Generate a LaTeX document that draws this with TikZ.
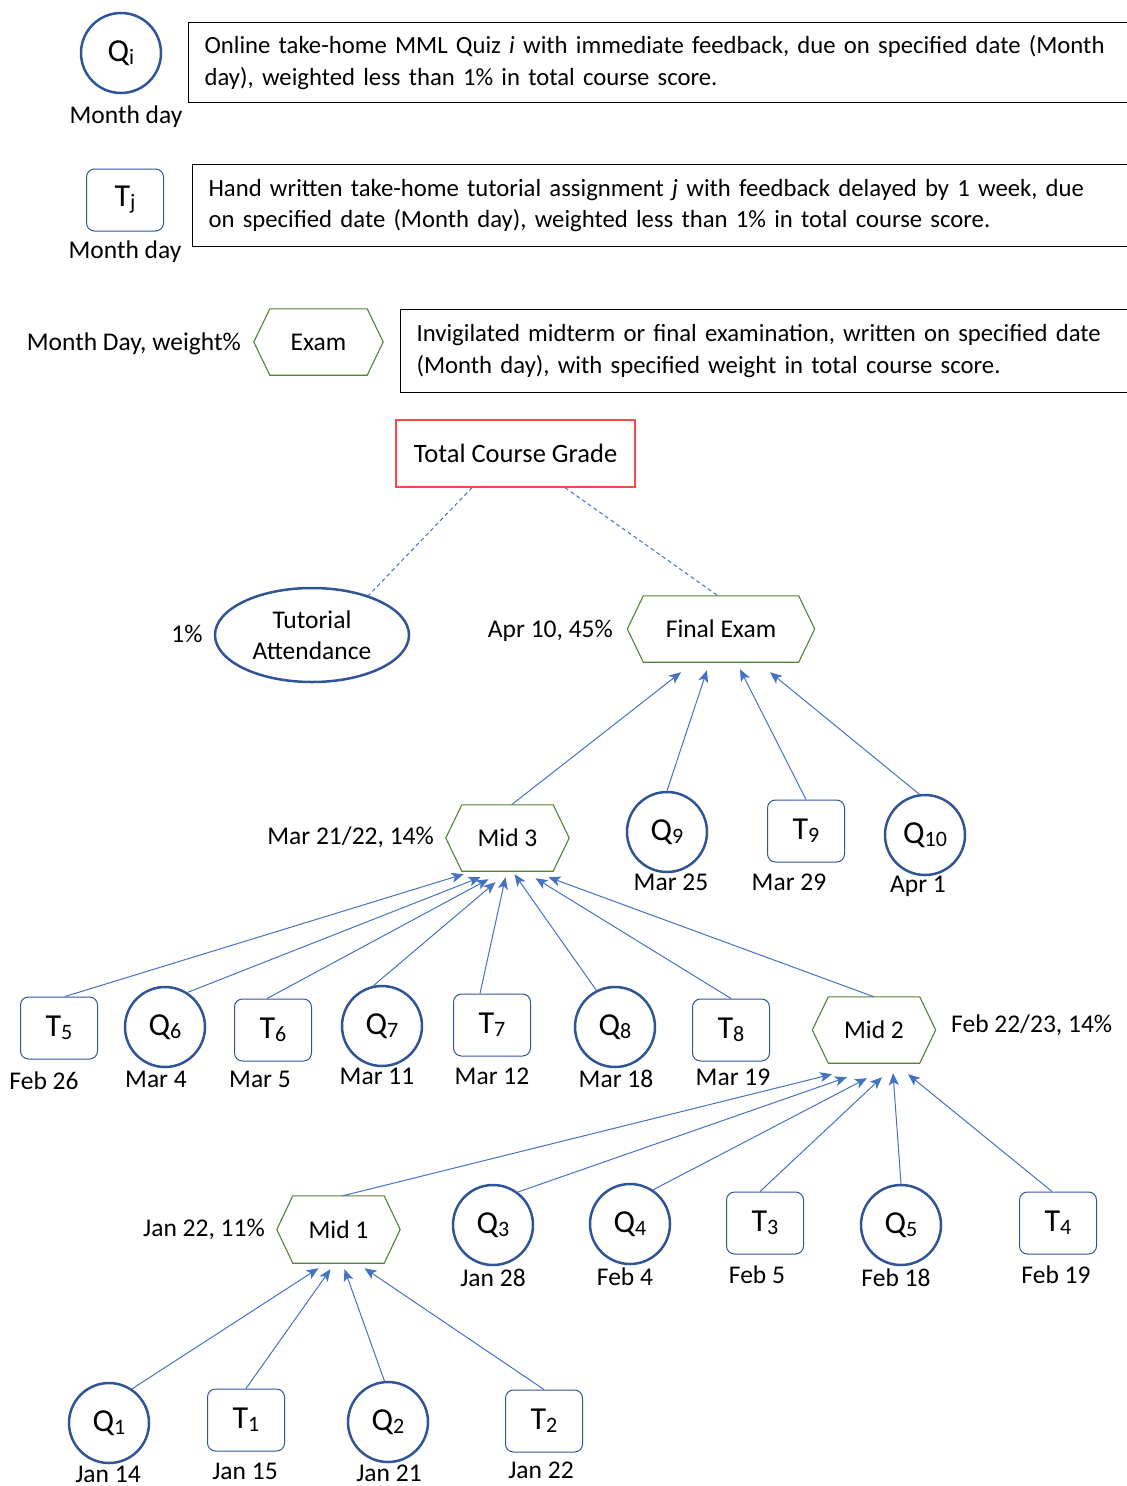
\documentclass[tikz,border=0pt]{standalone}
\usepackage{fontspec}
\setmainfont{Carlito}
\usetikzlibrary{arrows.meta,shapes.geometric}
\definecolor{qblue}{HTML}{2F5597}
\definecolor{ablue}{HTML}{4472C4}
\definecolor{hgreen}{HTML}{548235}
\definecolor{tred}{HTML}{FF4848}
\newcommand\subd[1]{\raisebox{-3pt}{\fontsize{22}{22}\selectfont #1}}
\begin{document}
\begin{tikzpicture}[x=1pt,y=-1pt,
  font=\fontsize{25.5}{31.5}\selectfont,
  quiz/.style={circle, draw=qblue, line width=2.5pt, minimum size=80pt, inner sep=0pt, font=\fontsize{32}{36}\selectfont},
  tut/.style={rectangle, rounded corners=8pt, draw=qblue, line width=1pt, minimum width=77pt, minimum height=62pt, inner sep=0pt, font=\fontsize{32}{36}\selectfont},
  hexbox/.style={rectangle, minimum height=66pt, inner sep=0pt},
  hexline/.style={draw=hgreen, line width=1.1pt},
  lbl/.style={inner sep=0pt},
  legbox/.style={rectangle, draw=black, line width=1.2pt, anchor=north west, inner xsep=16pt, inner ysep=0pt, align=left, text width=1000pt, font=\fontsize{24.7}{31.5}\selectfont},
  arr/.style={draw=ablue, line width=1pt, -{Stealth[length=12pt,width=10pt,inset=3pt]}},
  dashln/.style={draw=ablue, line width=1pt, dash pattern=on 4pt off 3pt}
]
\useasboundingbox (0,0) rectangle (1127,1486);

% ---------- legend ----------
\node[quiz] (qi) at (121,53) {Q\subd{i}};
\node[lbl] (qid) at (126,117) {Month day};
\node[legbox, minimum height=80pt] (lq) at (188,22)
  {Online take-home MML Quiz \textit{i} with immediate feedback, due on specified date (Month\\ day), weighted less than 1\% in total course score.};

\node[tut] (tj) at (125,200) {T\subd{j}};
\node[lbl] (tjd) at (125,252) {Month day};
\node[legbox, minimum height=82pt] (lt) at (192,164)
  {Hand written take-home tutorial assignment \textit{j} with feedback delayed by 1 week, due\\ on specified date (Month day), weighted less than 1\% in total course score.};

\node[hexbox, minimum width=129pt] (exam) at (318.5,342) {Exam};
\node[lbl, anchor=east] (examd) at (241,344) {Month Day, weight\%};
\node[legbox, minimum height=83pt] (le) at (400,309)
  {Invigilated midterm or final examination, written on specified date\\ (Month day), with specified weight in total course score.};

% ---------- top ----------
\node[draw=tred, line width=1.2pt, minimum width=239pt, minimum height=67pt, inner sep=0pt, font=\fontsize{26.5}{31.5}\selectfont] (tcg) at (515.5,453.5) {Total Course Grade};
\node[ellipse, draw=qblue, line width=2.5pt, minimum width=194pt, minimum height=94pt, inner sep=0pt, align=center] (att) at (312,635) {Tutorial\\Attendance};
\node[lbl] (attw) at (187,634) {1\%};
\node[hexbox, minimum width=187pt] (final) at (721,629) {Final Exam};
\node[lbl, anchor=east] (finald) at (613,631) {Apr 10, 45\%};

% ---------- row 2 ----------
\node[hexbox, minimum width=123pt] (mid3) at (507.5,838) {Mid 3};
\node[lbl, anchor=east] (mid3d) at (434,837) {Mar 21/22, 14\%};
\node[quiz] (q9) at (667,832) {Q\subd{9}};
\node[lbl] (q9d) at (671,882) {Mar 25};
\node[tut] (t9) at (806,831) {T\subd{9}};
\node[lbl] (t9d) at (789,882) {Mar 29};
\node[quiz] (q10) at (925,835) {Q\subd{10}};
\node[lbl] (q10d) at (918,886) {Apr 1};

% ---------- row 3 ----------
\node[tut] (t5) at (59,1028) {T\subd{5}};
\node[lbl] (t5d) at (44,1081) {Feb 26};
\node[quiz] (q6) at (165,1027) {Q\subd{6}};
\node[lbl] (q6d) at (156,1079) {Mar 4};
\node[tut] (t6) at (273,1030) {T\subd{6}};
\node[lbl] (t6d) at (260,1079) {Mar 5};
\node[quiz] (q7) at (382,1026) {Q\subd{7}};
\node[lbl] (q7d) at (377,1076) {Mar 11};
\node[tut] (t7) at (492,1025) {T\subd{7}};
\node[lbl] (t7d) at (492,1076) {Mar 12};
\node[quiz] (q8) at (615,1027) {Q\subd{8}};
\node[lbl] (q8d) at (616,1079) {Mar 18};
\node[tut] (t8) at (731,1030) {T\subd{8}};
\node[lbl] (t8d) at (733,1077) {Mar 19};
\node[hexbox, minimum width=123pt] (mid2) at (874,1030) {Mid 2};
\node[lbl, anchor=west] (mid2d) at (951,1025) {Feb 22/23, 14\%};

% ---------- row 4 ----------
\node[hexbox, minimum width=123pt, minimum height=67pt] (mid1) at (338.5,1229.5) {Mid 1};
\node[lbl, anchor=east] (mid1d) at (265,1229) {Jan 22, 11\%};
\node[quiz] (q3) at (493,1225) {Q\subd{3}};
\node[lbl] (q3d) at (493,1278) {Jan 28};
\node[quiz] (q4) at (630,1224) {Q\subd{4}};
\node[lbl] (q4d) at (625,1277) {Feb 4};
\node[tut] (t3) at (765,1223) {T\subd{3}};
\node[lbl] (t3d) at (757,1275) {Feb 5};
\node[quiz] (q5) at (901,1225) {Q\subd{5}};
\node[lbl] (q5d) at (896,1278) {Feb 18};
\node[tut] (t4) at (1058,1223) {T\subd{4}};
\node[lbl] (t4d) at (1056,1275) {Feb 19};

% ---------- row 5 ----------
\node[quiz] (q1) at (109,1423) {Q\subd{1}};
\node[lbl] (q1d) at (108,1474) {Jan 14};
\node[tut] (t1) at (246,1420) {T\subd{1}};
\node[lbl] (t1d) at (245,1471) {Jan 15};
\node[quiz] (q2) at (388,1422) {Q\subd{2}};
\node[lbl] (q2d) at (389,1473) {Jan 21};
\node[tut] (t2) at (544,1421) {T\subd{2}};
\node[lbl] (t2d) at (541,1470) {Jan 22};

% ---------- hexagon outlines ----------
\foreach \n in {exam,final,mid1,mid2,mid3}{
  \draw[hexline] ([xshift=16pt]\n.north west) -- ([xshift=-16pt]\n.north east) -- (\n.east)
    -- ([xshift=-16pt]\n.south east) -- ([xshift=16pt]\n.south west) -- (\n.west) -- cycle;
}

% ---------- dashed links ----------
\draw[dashln] ([xshift=-43.5pt]tcg.south) -- (att.35);
\draw[dashln] ([xshift=49.5pt]tcg.south) -- ([xshift=-3pt]final.north);

% ---------- into Final Exam ----------
\draw[arr] ([xshift=4pt]mid3.north) -- ([xshift=-40pt,yshift=-10pt]final.south);
\draw[arr] (q9.north) -- ([xshift=-14pt,yshift=-8pt]final.south);
\draw[arr] (t9.north) -- ([xshift=19pt,yshift=-7pt]final.south);
\draw[arr] (q10.98) -- ([xshift=49pt,yshift=-10pt]final.south);

% ---------- into Mid 3 ----------
\draw[arr] ([xshift=6pt]t5.north) -- ([xshift=-44pt,yshift=-3pt]mid3.south);
\draw[arr] (q6.57) -- ([xshift=-27pt,yshift=-6pt]mid3.south);
\draw[arr] ([xshift=-6pt]t6.north) -- ([xshift=-19pt,yshift=-8pt]mid3.south);
\draw[arr] (q7.102) -- ([xshift=-12pt,yshift=-11pt]mid3.south);
\draw[arr] ([xshift=-12pt]t7.north) -- ([xshift=-2pt,yshift=-6pt]mid3.south);
\draw[arr] (q8.117) -- ([xshift=7pt,yshift=-3pt]mid3.south);
\draw[arr] (t8.north) -- ([xshift=28pt,yshift=-7pt]mid3.south);
\draw[arr] (mid2.north) -- ([xshift=41pt,yshift=-6pt]mid3.south);

% ---------- into Mid 2 ----------
\draw[arr] ([xshift=4pt]mid1.north) -- ([xshift=-42pt,yshift=-11pt]mid2.south);
\draw[arr] (q3.53) -- ([xshift=-27pt,yshift=-14pt]mid2.south);
\draw[arr] (q4.56) -- ([xshift=-7pt,yshift=-15pt]mid2.south);
\draw[arr] ([xshift=-5pt]t3.north) -- ([xshift=8pt,yshift=-14pt]mid2.south);
\draw[arr] (q5.north) -- ([xshift=19pt,yshift=-10pt]mid2.south);
\draw[arr] ([xshift=-6pt]t4.north) -- ([xshift=34pt,yshift=-11pt]mid2.south);

% ---------- into Mid 1 ----------
\draw[arr] (q1.56) -- ([xshift=-20pt,yshift=-5pt]mid1.south);
\draw[arr] (t1.north) -- ([xshift=-8pt,yshift=-6pt]mid1.south);
\draw[arr] (q2.95) -- ([xshift=6pt,yshift=-6pt]mid1.south);
\draw[arr] (t2.north) -- ([xshift=26pt,yshift=-5pt]mid1.south);
\end{tikzpicture}
\end{document}
